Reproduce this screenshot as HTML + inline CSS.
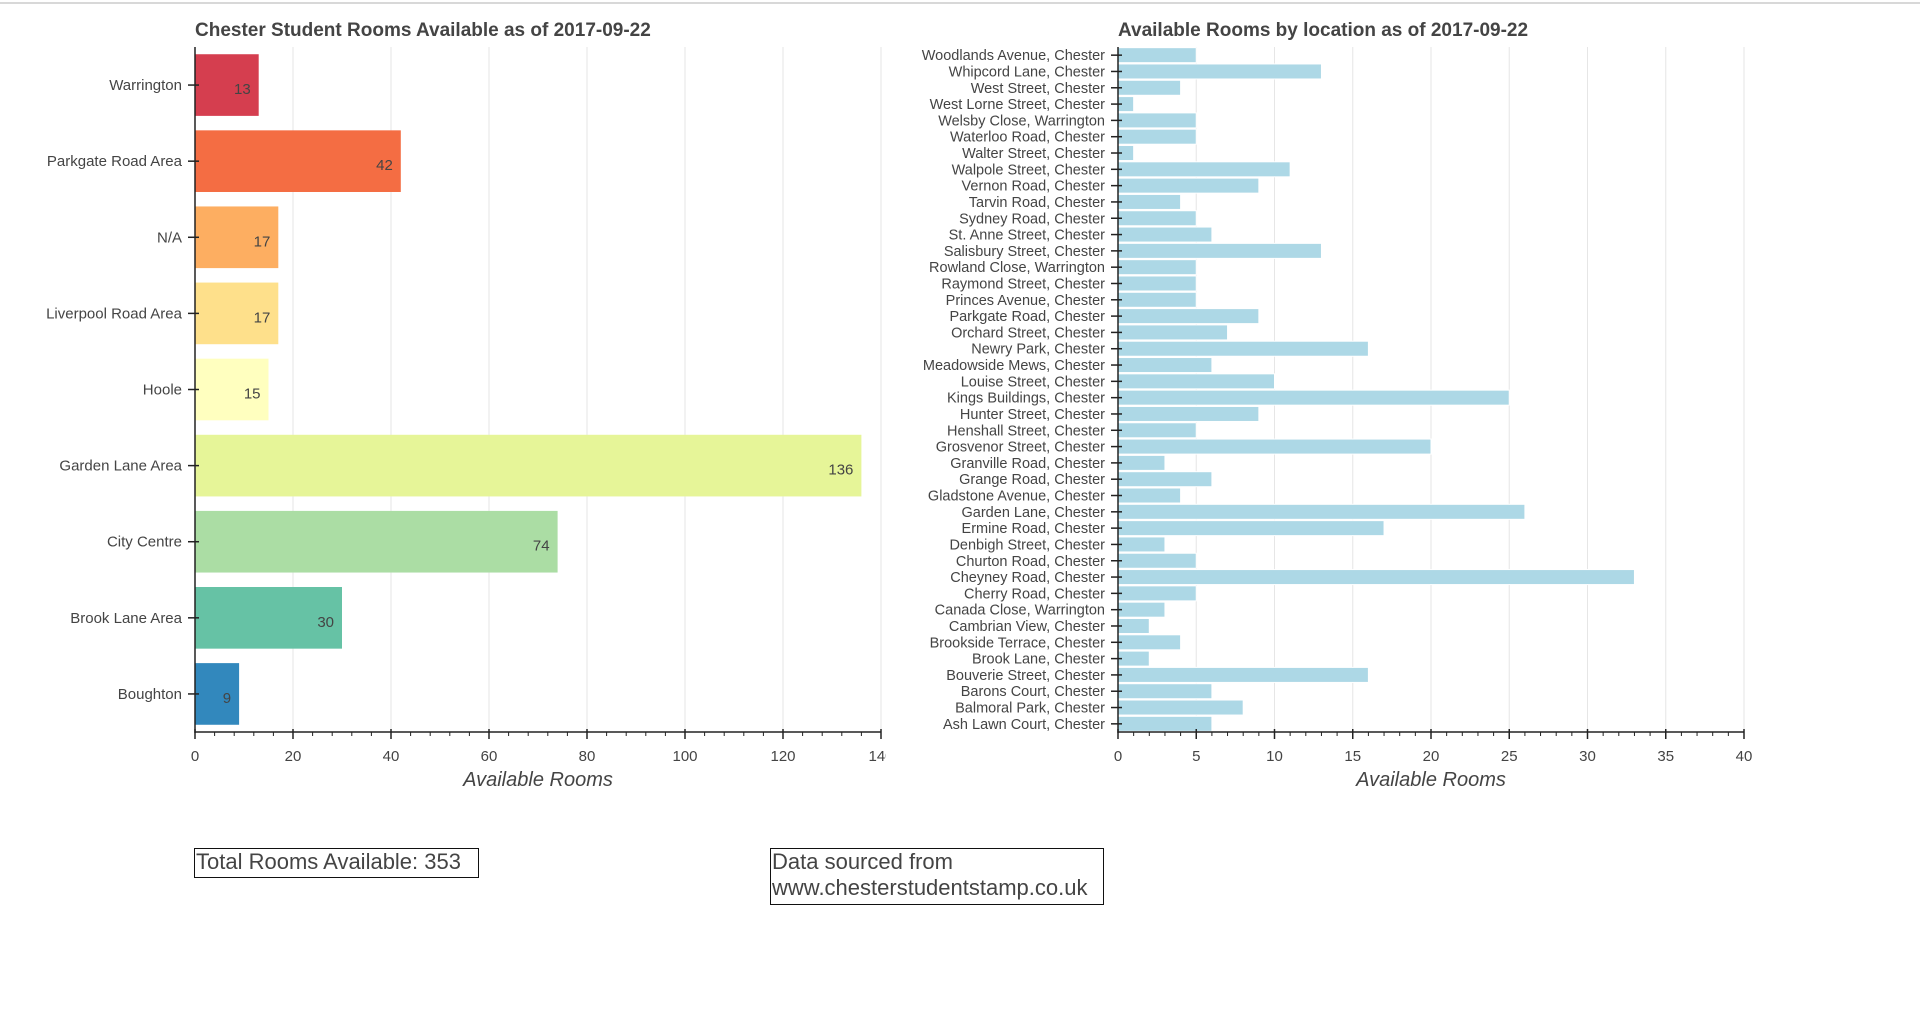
<!DOCTYPE html>
<html><head><meta charset="utf-8">
<style>
html,body{margin:0;padding:0;background:#fff;width:1920px;height:1027px;overflow:hidden;font-family:"Liberation Sans",Arial,sans-serif;}
#topline{position:absolute;left:0;top:2px;width:1920px;height:2px;background:#d8d8d8;}
svg{position:absolute;left:0;top:0;}
.box{position:absolute;border:1.5px solid #111;font-size:22px;color:#444;line-height:26px;padding:0 1px;box-sizing:border-box;}
</style></head>
<body>
<div id="topline"></div>
<svg id="left" width="886" height="820"></svg>
<svg id="right" width="1920" height="820" style="left:0"></svg>
<div class="box" style="left:194px;top:848px;width:285px;height:30px;">Total Rooms Available: 353</div>
<div class="box" style="left:770px;top:848px;width:334px;height:57px;">Data sourced from<br>www.chesterstudentstamp.co.uk</div>
<script>
const areaCategories=["Warrington","Parkgate Road Area","N/A","Liverpool Road Area","Hoole","Garden Lane Area","City Centre","Brook Lane Area","Boughton"];
const areaValues=[13,42,17,17,15,136,74,30,9];
const areaColors=["#d53e4f","#f46d43","#fdae61","#fee08b","#ffffbf","#e6f598","#abdda4","#66c2a5","#3288bd"];
const areaTicks=[0,20,40,60,80,100,120,140];
const locCategories=["Woodlands Avenue, Chester","Whipcord Lane, Chester","West Street, Chester","West Lorne Street, Chester","Welsby Close, Warrington","Waterloo Road, Chester","Walter Street, Chester","Walpole Street, Chester","Vernon Road, Chester","Tarvin Road, Chester","Sydney Road, Chester","St. Anne Street, Chester","Salisbury Street, Chester","Rowland Close, Warrington","Raymond Street, Chester","Princes Avenue, Chester","Parkgate Road, Chester","Orchard Street, Chester","Newry Park, Chester","Meadowside Mews, Chester","Louise Street, Chester","Kings Buildings, Chester","Hunter Street, Chester","Henshall Street, Chester","Grosvenor Street, Chester","Granville Road, Chester","Grange Road, Chester","Gladstone Avenue, Chester","Garden Lane, Chester","Ermine Road, Chester","Denbigh Street, Chester","Churton Road, Chester","Cheyney Road, Chester","Cherry Road, Chester","Canada Close, Warrington","Cambrian View, Chester","Brookside Terrace, Chester","Brook Lane, Chester","Bouverie Street, Chester","Barons Court, Chester","Balmoral Park, Chester","Ash Lawn Court, Chester"];
const locValues=[5,13,4,1,5,5,1,11,9,4,5,6,13,5,5,5,9,7,16,6,10,25,9,5,20,3,6,4,26,17,3,5,33,5,3,2,4,2,16,6,8,6];
const locTicks=[0,5,10,15,20,25,30,35,40];
const NS="http://www.w3.org/2000/svg";
function mk(parent,tag,attrs,text){const e=document.createElementNS(NS,tag);for(const k in attrs)e.setAttribute(k,attrs[k]);if(text!==undefined)e.textContent=text;parent.appendChild(e);return e;}

function chart(svg,o){
  const x=v=>o.x0+(v-o.min)*(o.x1-o.x0)/(o.max-o.min);
  const n=o.cats.length, step=(o.bottom-o.top)/n;
  const yc=i=>o.top+step*(i+0.5);
  const t=mk(svg,'text',{x:o.x0,y:o.top-11,'font-size':19,'font-weight':'bold',fill:'#444'},o.title);
  
  
  o.ticks.forEach(v=>{if(v===0)return;const g=mk(svg,'line',{x1:x(v),x2:x(v),y1:o.top,y2:o.bottom,stroke:'#e6e6e6','stroke-width':1});
    
    });
  o.vals.forEach((v,i)=>{
    const r=mk(svg,'rect',{x:x(0),y:yc(i)-step*o.bw/2,width:x(v)-x(0),height:step*o.bw,fill:o.colors?o.colors[i]:'#add8e6',stroke:o.colors?'none':'#fff','stroke-width':1});
    
    
    if(o.labels){const l=mk(svg,'text',{x:x(v)-8,y:yc(i)+9,'text-anchor':'end','font-size':15,fill:'#444'},String(v));
      
      }
    const c=mk(svg,'text',{x:o.x0-13,y:yc(i)+5,'text-anchor':'end','font-size':o.catFs,fill:'#444'},o.cats[i]);
    
    
    mk(svg,'line',{x1:o.x0-7,x2:o.x0+4,y1:yc(i),y2:yc(i),stroke:'#222','stroke-width':1.5});
  });
  mk(svg,'line',{x1:o.x0,x2:o.x0,y1:o.top,y2:o.bottom+1,stroke:'#222','stroke-width':1.5});
  mk(svg,'line',{x1:o.x0,x2:o.x1,y1:o.bottom,y2:o.bottom,stroke:'#222','stroke-width':1.5});
  for(let v=o.min;v<=o.max+1e-9;v+=o.minor){mk(svg,'line',{x1:x(v),x2:x(v),y1:o.bottom,y2:o.bottom+4,stroke:'#222','stroke-width':1});}
  o.ticks.forEach(v=>{mk(svg,'line',{x1:x(v),x2:x(v),y1:o.bottom-3,y2:o.bottom+7,stroke:'#222','stroke-width':1.5});
    const tl=mk(svg,'text',{x:x(v),y:o.bottom+29,'text-anchor':'middle','font-size':15,fill:'#444'},String(v));
    
    });
  const at=mk(svg,'text',{x:(o.x0+o.x1)/2,y:o.bottom+54,'text-anchor':'middle','font-size':20,'font-style':'italic',fill:'#444'},'Available Rooms');
  
  
}
chart(document.getElementById('left'),{cats:areaCategories,vals:areaValues,colors:areaColors,ticks:areaTicks,min:0,max:140,minor:4,x0:195,x1:881,top:47,bottom:732,bw:0.81,labels:true,catFs:15,title:'Chester Student Rooms Available as of 2017-09-22'});
chart(document.getElementById('right'),{cats:locCategories,vals:locValues,ticks:locTicks,min:0,max:40,minor:1,x0:1118,x1:1744,top:47,bottom:732,bw:0.92,labels:false,catFs:14.5,title:'Available Rooms by location as of 2017-09-22'});
</script>
</body></html>
